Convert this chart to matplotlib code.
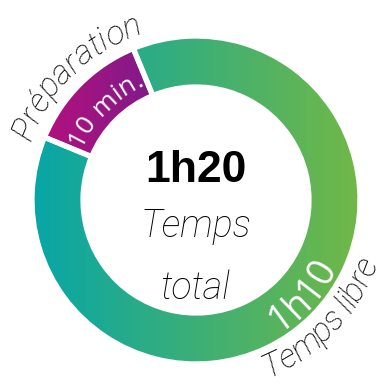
import numpy as np
import matplotlib
matplotlib.use('Agg')
import matplotlib.pyplot as plt
from matplotlib.colors import to_rgb

# time split of the recipe, in minutes
parts = ['Préparation', 'Temps libre']
minutes = [10, 70]
total_caption = ['Temps', 'total']

# gradient ends for each ring segment (left -> right)
grad_colors = [('#b3117e', '#6b1f8c'), ('#06a6a8', '#72b846')]


def fmt_time(m):
    if m < 60:
        return '%d min.' % m
    return '%dh%02d' % (m // 60, m % 60)


W, H = 387, 392
fig = plt.figure(figsize=(W / 100, H / 100), dpi=100)
ax = fig.add_axes([0, 0, 1, 1])

cx, cy = 196, H - 200
R, r_in = 164, 113

wedges, _ = ax.pie(minutes, radius=R, center=(cx, cy), startangle=112.5,
                   counterclock=True,
                   wedgeprops=dict(width=R - r_in, facecolor='none',
                                   edgecolor='white', linewidth=3.8, zorder=3))

# fill every wedge with a horizontal gradient clipped to its shape
for w, (c0, c1) in zip(wedges, grad_colors):
    verts = w.get_path().vertices
    x0, x1 = verts[:, 0].min(), verts[:, 0].max()
    t = np.linspace(0, 1, 256)[:, None]
    rgb = (1 - t) * np.array(to_rgb(c0)) + t * np.array(to_rgb(c1))
    img = np.repeat(rgb[None, :, :], 2, axis=0)
    im = ax.imshow(img, extent=(x0, x1, cy - R, cy + R), aspect='auto',
                   interpolation='bilinear', zorder=1)
    im.set_clip_path(w)

ax.set_xlim(0, W)
ax.set_ylim(0, H)
ax.set_aspect('auto')
ax.axis('off')

renderer = fig.canvas.get_renderer()


def char_widths(s, size, **font):
    ws = []
    for ch in s:
        if ch == ' ':
            a = ax.text(0, 0, 'n n', fontsize=size, **font)
            b = ax.text(0, 0, 'nn', fontsize=size, **font)
            ws.append(a.get_window_extent(renderer).width -
                      b.get_window_extent(renderer).width)
            a.remove()
            b.remove()
        else:
            t = ax.text(0, 0, ch, fontsize=size, **font)
            ws.append(t.get_window_extent(renderer).width)
            t.remove()
    return np.array(ws)


def arc_text(s, radius, mid_deg, size, outward=True, spacing=0.0, **font):
    ws = char_widths(s, size, **font) + spacing
    pos = np.cumsum(ws) - ws / 2 - ws.sum() / 2
    for ch, d in zip(s, pos):
        if outward:
            # clockwise over the top, letters pointing away from the centre
            th = np.radians(mid_deg) - d / radius
            rot = np.degrees(th) - 90
        else:
            # counter-clockwise under the bottom, letters pointing inwards
            th = np.radians(mid_deg) + d / radius
            rot = np.degrees(th) + 90
        ax.text(cx + radius * np.cos(th), cy + radius * np.sin(th), ch,
                rotation=rot, rotation_mode='anchor', ha='center',
                va='baseline', fontsize=size, zorder=5, **font)


script = dict(family='Roboto', style='italic', weight='light', color='black')
label = dict(family='Open Sans', color='white')

mids = [(w.theta1 + w.theta2) / 2 for w in wedges]

# top-left segment
arc_text(fmt_time(minutes[0]), 126, mids[0], 19, outward=True, **label)
arc_text(parts[0], 175, mids[0] - 1, 24, outward=True, **script)

# bottom-right segment
arc_text(fmt_time(minutes[1]), 156, mids[1] + 3, 27, outward=False, **label)
arc_text(parts[1], 192, mids[1] + 1.5, 24, outward=False, **script)

# total in the hole
ax.text(cx, H - 182, fmt_time(sum(minutes)), ha='center', va='baseline',
        fontsize=32, family='Liberation Sans', weight='bold', color='black')
ax.text(cx, H - 237, total_caption[0], ha='center', va='baseline',
        fontsize=27, **script)
ax.text(cx, H - 299, total_caption[1], ha='center', va='baseline',
        fontsize=27, **script)

fig.savefig('out.png', dpi=100)
